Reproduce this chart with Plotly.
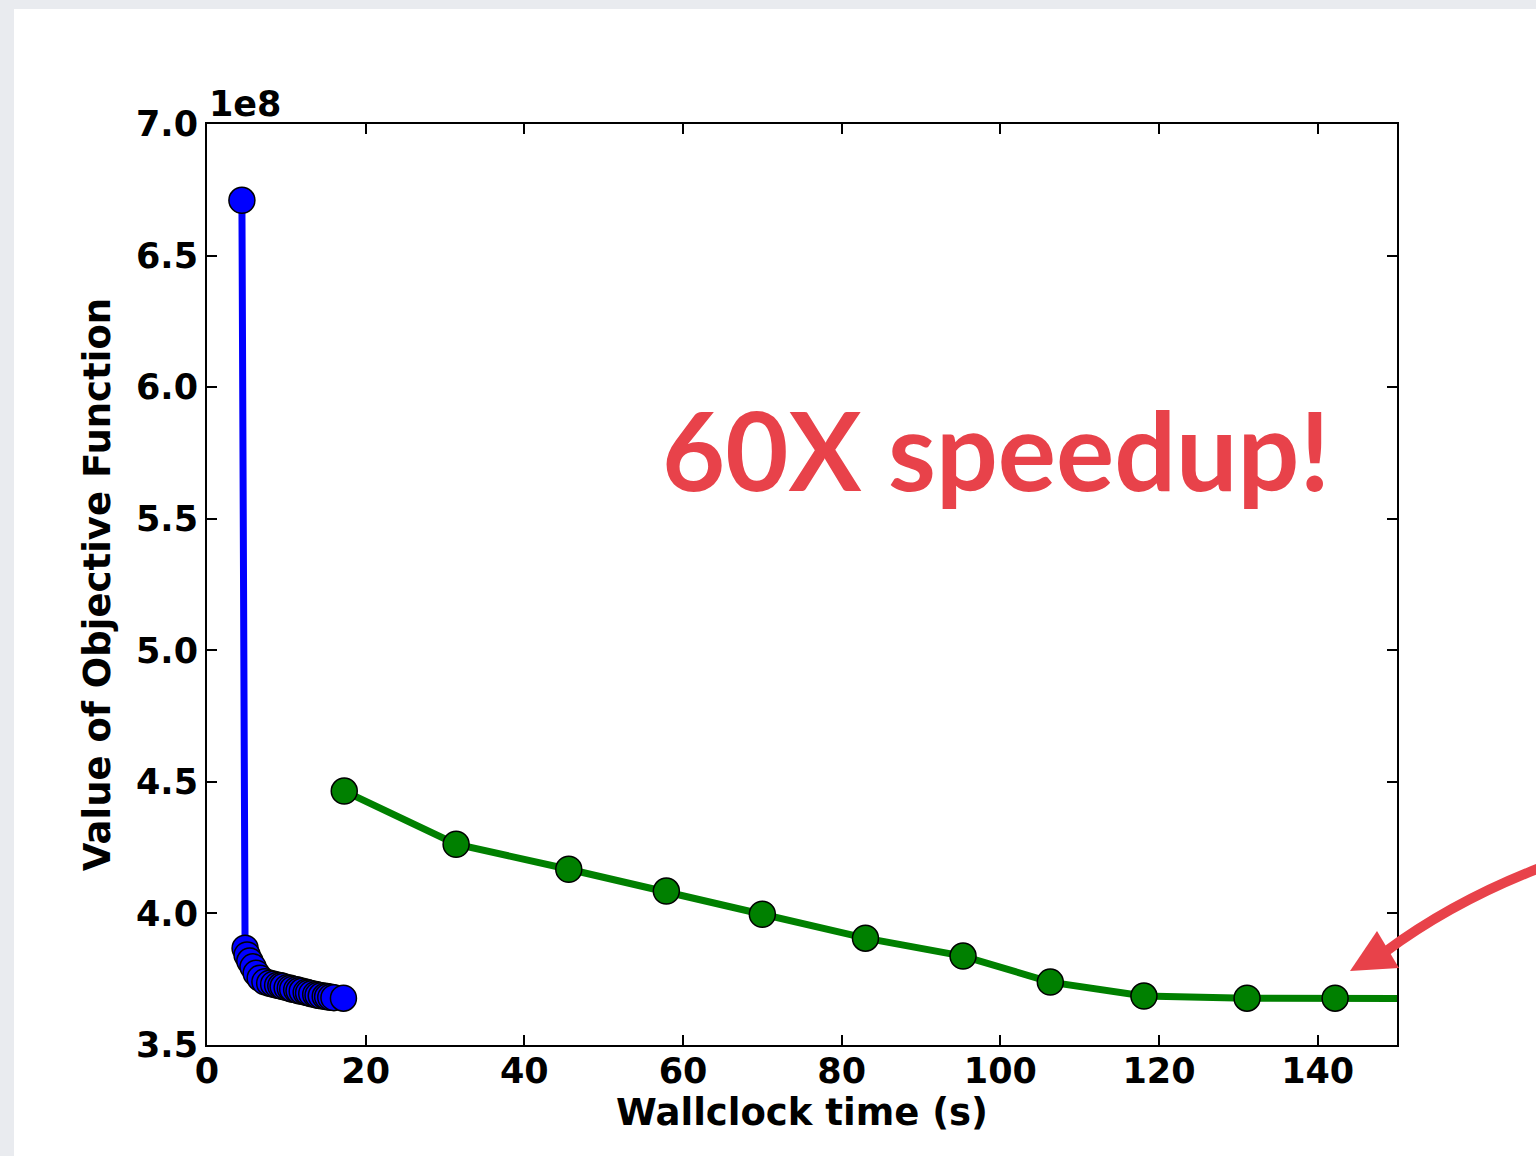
import plotly.graph_objects as go

# ---- data (objective values in units of 1e8) ----
fast_time = [4.4, 4.8, 5.05, 5.4, 5.8, 6.2, 6.7, 7.3, 7.9, 8.4, 8.9, 9.3, 9.6, 10.1, 10.5,
             10.8, 11.3, 11.6, 12.0, 12.5, 12.8, 13.2, 13.7, 14.0, 14.4, 14.9, 15.2, 15.6, 16.0, 17.2]
fast_obj = [6.71, 3.868, 3.842, 3.819, 3.797, 3.773, 3.754, 3.740, 3.735, 3.731, 3.727, 3.725,
            3.722, 3.718, 3.716, 3.712, 3.710, 3.706, 3.704, 3.700, 3.698, 3.695, 3.692, 3.689,
            3.687, 3.685, 3.683, 3.681, 3.680, 3.678]

slow_time = [17.3, 31.4, 45.6, 57.9, 70.0, 83.0, 95.3, 106.3, 118.1, 131.1, 142.2, 153.0]
slow_obj = [4.465, 4.263, 4.168, 4.085, 3.997, 3.906, 3.838, 3.739, 3.686, 3.678, 3.678, 3.677]

x_ticks = [0, 20, 40, 60, 80, 100, 120, 140]
y_ticks = [3.5, 4.0, 4.5, 5.0, 5.5, 6.0, 6.5, 7.0]

W, H = 1536, 1156
L, R, T, B = 207, 139, 124, 111
PW, PH = W - L - R, H - T - B


def px(xp):
    return (xp - L) / PW


def py(yp):
    return (H - B - yp) / PH


BLACK = "black"
RED = "#E8424A"
tick_font = dict(family="DejaVu Sans", size=35, color=BLACK, weight="bold")
title_font = dict(family="DejaVu Sans", size=37, color=BLACK, weight="bold")

fig = go.Figure()
fig.add_trace(go.Scatter(
    x=fast_time, y=fast_obj, mode="lines+markers",
    line=dict(color="#0000FF", width=7),
    marker=dict(size=26, color="#0000FF", line=dict(color=BLACK, width=1.5)),
    showlegend=False))
fig.add_trace(go.Scatter(
    x=slow_time, y=slow_obj, mode="lines+markers",
    line=dict(color="#008000", width=7),
    marker=dict(size=26, color="#008000", line=dict(color=BLACK, width=1.5)),
    showlegend=False))

axis_common = dict(showline=True, linecolor=BLACK, linewidth=2, mirror="allticks",
                   ticks="inside", ticklen=10, tickwidth=1.5, tickcolor=BLACK,
                   showgrid=False, zeroline=False, tickfont=tick_font)

fig.update_xaxes(range=[0, 150], tickvals=x_ticks, ticktext=[str(v) for v in x_ticks],
                 ticklabelstandoff=-6,
                 title=dict(text="Wallclock time (s)", font=title_font, standoff=4),
                 **axis_common)
fig.update_yaxes(range=[3.5, 7.0], tickvals=y_ticks, ticktext=[f"{v:.1f}" for v in y_ticks],
                 title=dict(text="Value of Objective Function", font=title_font, standoff=14),
                 **axis_common)

shapes = [
    # white slide area
    dict(type="rect", xref="paper", yref="paper", layer="below",
         x0=px(14), x1=px(W + 5), y0=py(H + 5), y1=py(9),
         fillcolor="white", line=dict(width=0)),
    # curved arrow shaft
    dict(type="path", xref="paper", yref="paper",
         path=f"M {px(1545)} {py(866)} Q {px(1455)} {py(900)} {px(1385)} {py(952)}",
         line=dict(color=RED, width=10), fillcolor="rgba(0,0,0,0)"),
    # arrow head
    dict(type="path", xref="paper", yref="paper",
         path=f"M {px(1350)} {py(971)} L {px(1377)} {py(931)} L {px(1399)} {py(968)} Z",
         line=dict(color=RED, width=0), fillcolor=RED),
]

annotations = [
    dict(text="1e8", xref="paper", yref="paper", x=px(207), y=py(126),
         xanchor="left", yanchor="bottom", showarrow=False,
         font=dict(family="DejaVu Sans", size=35, color=BLACK, weight="bold")),
    dict(text="60X speedup!", xref="paper", yref="paper", x=px(996), y=py(448),
         xanchor="center", yanchor="middle", showarrow=False,
         font=dict(family="Lato", size=109, color=RED, weight="bold")),
]

fig.update_layout(
    width=W, height=H,
    margin=dict(l=L, r=R, t=T, b=B, pad=0),
    paper_bgcolor="#E9EBEF", plot_bgcolor="white",
    shapes=shapes, annotations=annotations,
)

fig.write_html("out.html",
               config={"displayModeBar": False},
               post_script="document.body.style.margin='0';"
                           "document.body.style.overflow='hidden';")
